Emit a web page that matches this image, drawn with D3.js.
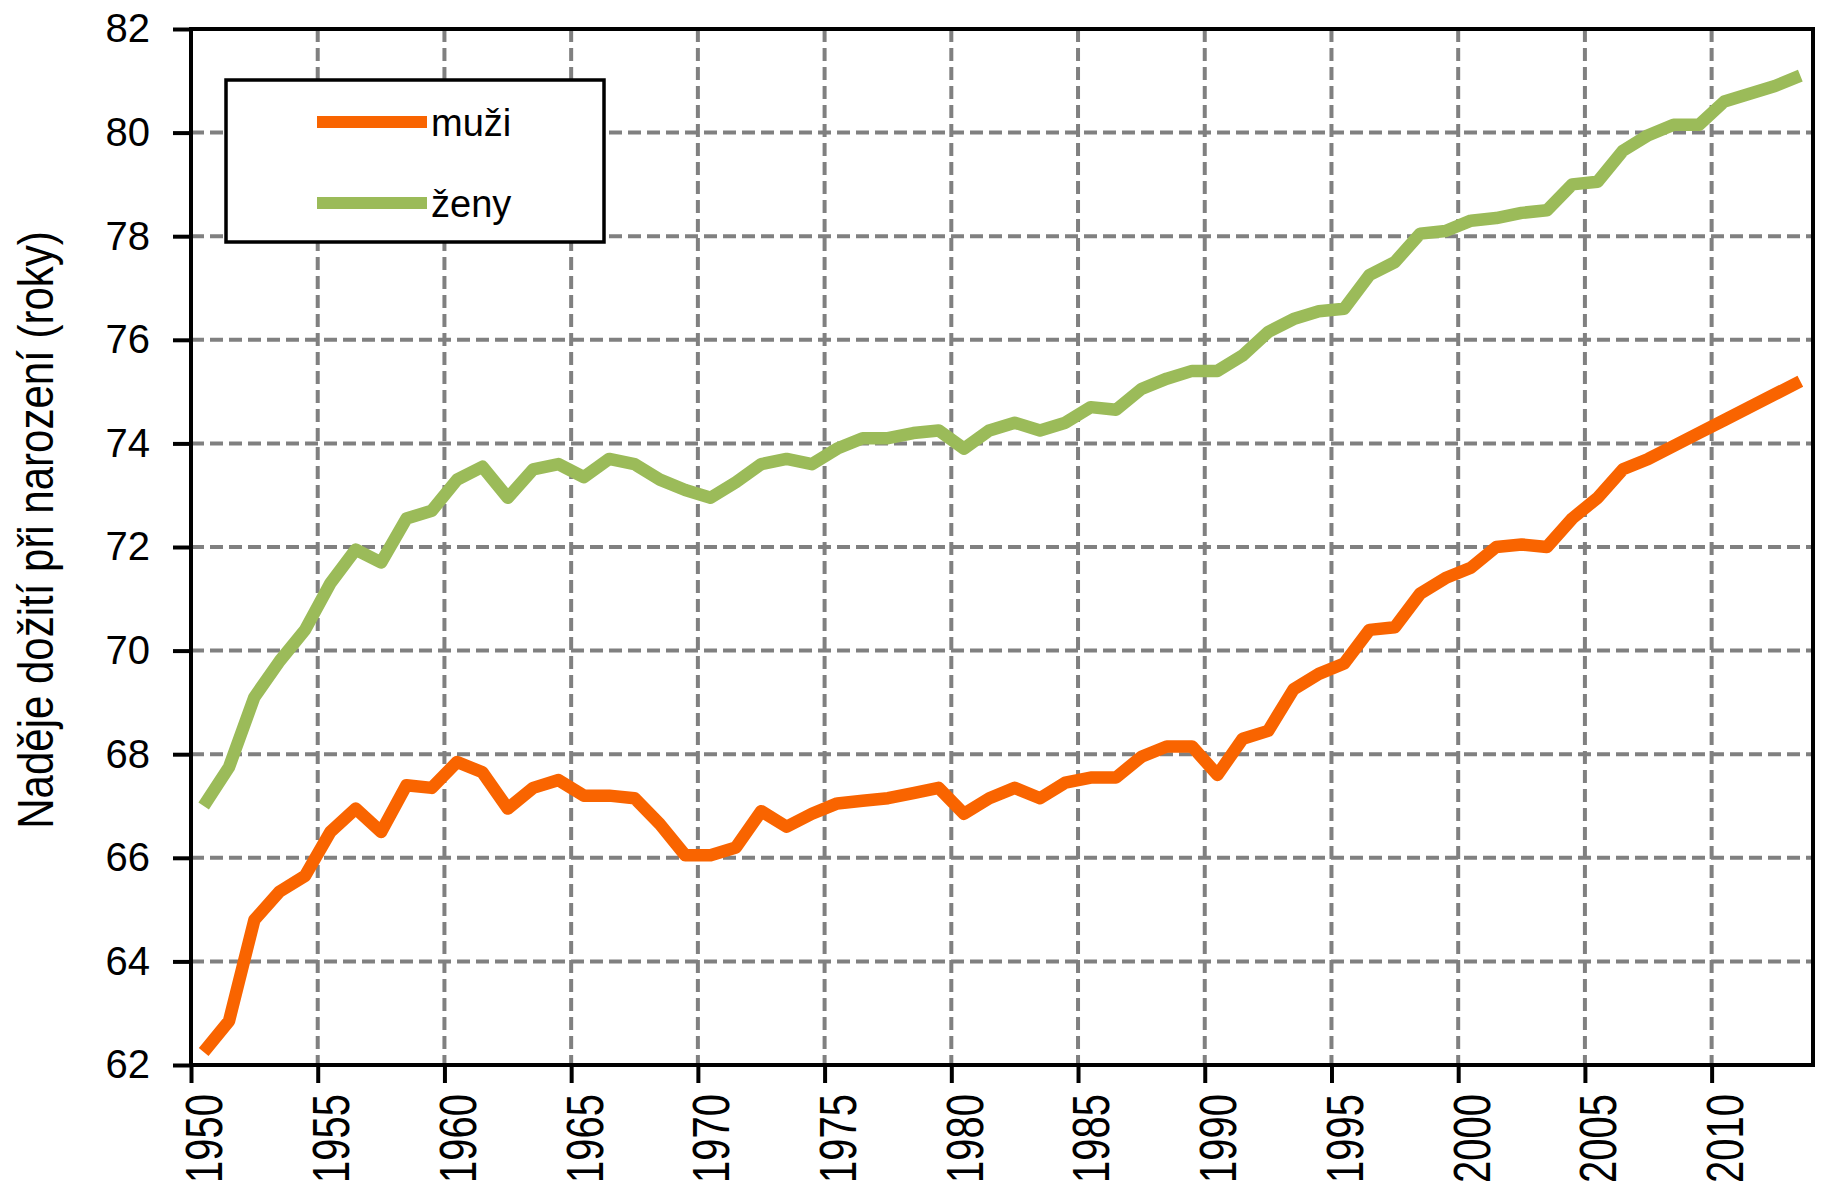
<!DOCTYPE html>
<html>
<head>
<meta charset="utf-8">
<script src="https://cdn.jsdelivr.net/npm/d3@7"></script>
<style>
  html, body { margin: 0; padding: 0; background: #ffffff; }
  svg { display: block; }
  text { font-family: Arial, "Liberation Sans", sans-serif; fill: #000; }
</style>
</head>
<body>
<svg id="chart" width="1824" height="1190"></svg>
<script>
const years = d3.range(1950, 2014);
const muzi = [62.25, 62.85, 64.8, 65.35, 65.65, 66.5, 66.95, 66.5, 67.4, 67.35,
  67.85, 67.65, 66.95, 67.35, 67.5, 67.2, 67.2, 67.15, 66.65, 66.05,
  66.05, 66.2, 66.9, 66.6, 66.85, 67.05, 67.1, 67.15, 67.25, 67.35,
  66.85, 67.15, 67.35, 67.15, 67.45, 67.55, 67.55, 67.95, 68.15, 68.15,
  67.6, 68.3, 68.45, 69.25, 69.55, 69.75, 70.4, 70.45, 71.1, 71.4,
  71.6, 72.0, 72.05, 72.0, 72.55, 72.95, 73.5, 73.7, 73.95, 74.2,
  74.45, 74.7, 74.95, 75.2];
const zeny = [67.0, 67.75, 69.1, 69.8, 70.4, 71.3, 71.95, 71.7, 72.55, 72.7,
  73.3, 73.55, 72.95, 73.5, 73.6, 73.35, 73.7, 73.6, 73.3, 73.1,
  72.95, 73.25, 73.6, 73.7, 73.6, 73.9, 74.1, 74.1, 74.2, 74.25,
  73.9, 74.25, 74.4, 74.25, 74.4, 74.7, 74.65, 75.05, 75.25, 75.4,
  75.4, 75.7, 76.15, 76.4, 76.55, 76.6, 77.25, 77.5, 78.05, 78.1,
  78.3, 78.35, 78.45, 78.5, 79.0, 79.05, 79.65, 79.95, 80.15, 80.15,
  80.6, 80.75, 80.9, 81.1];
const yTicks = [62, 64, 66, 68, 70, 72, 74, 76, 78, 80, 82];
const xTickYears = [1950, 1955, 1960, 1965, 1970, 1975, 1980, 1985, 1990, 1995, 2000, 2005, 2010];
const seriesNames = ["muži", "ženy"];
const seriesColors = ["#f96400", "#9bbb59"];
const yTitle = "Naděje dožití při narození (roky)";

const L = 191, R = 1813, T = 29, B = 1065;
const svg = d3.select("#chart");

const xb = d3.scaleBand().domain(years).range([L, R]).padding(0);
const xl = d3.scaleLinear().domain([1950, 2014]).range([L, R]);
const y = d3.scaleLinear().domain([62, 82]).range([B, T]);

// gridlines
const grid = svg.append("g");
grid.selectAll("line.h").data(yTicks.filter(v => v > 62 && v < 82)).join("line")
  .attr("x1", L).attr("x2", R)
  .attr("y1", d => y(d)).attr("y2", d => y(d))
  .attr("stroke", "#808080").attr("stroke-width", 4).attr("stroke-dasharray", "13,6");
grid.selectAll("line.v").data(xTickYears.filter(v => v > 1950)).join("line")
  .attr("x1", d => xl(d)).attr("x2", d => xl(d))
  .attr("y1", T).attr("y2", B)
  .attr("stroke", "#808080").attr("stroke-width", 4).attr("stroke-dasharray", "13,6");

// series lines
const line = d3.line().x((d, i) => xb(years[i]) + xb.bandwidth() / 2).y(d => y(d));
[muzi, zeny].forEach((s, i) => {
  svg.append("path").datum(s)
    .attr("d", line)
    .attr("fill", "none")
    .attr("stroke", seriesColors[i])
    .attr("stroke-width", 12.5)
    .attr("stroke-linejoin", "round");
});

// plot border
svg.append("rect").attr("x", L).attr("y", T).attr("width", R - L).attr("height", B - T)
  .attr("fill", "none").attr("stroke", "#000").attr("stroke-width", 4);

// y axis
const yAxis = svg.append("g").attr("transform", `translate(${L},0)`)
  .call(d3.axisLeft(y).tickValues(yTicks).tickSize(18).tickPadding(23).tickFormat(d3.format("d")));
yAxis.select(".domain").remove();
yAxis.selectAll("line").attr("stroke", "#000").attr("stroke-width", 4);
yAxis.selectAll("text").attr("font-size", 40).attr("fill", "#000")
  .style("font-family", "Arial, 'Liberation Sans', sans-serif");

// x axis ticks (category boundaries)
const xTickAxis = svg.append("g").attr("transform", `translate(0,${B})`)
  .call(d3.axisBottom(xl).tickValues(xTickYears).tickSize(18).tickFormat(""));
xTickAxis.select(".domain").remove();
xTickAxis.selectAll("line").attr("stroke", "#000").attr("stroke-width", 4);

// x axis labels (category centers)
const xLabAxis = svg.append("g").attr("transform", `translate(0,${B})`)
  .call(d3.axisBottom(xb).tickValues(xTickYears).tickSize(0));
xLabAxis.select(".domain").remove();
xLabAxis.selectAll("text")
  .attr("font-size", 40).attr("fill", "#000")
  .style("font-family", "Arial, 'Liberation Sans', sans-serif")
  .attr("text-anchor", "end")
  .attr("x", -29).attr("y", 0).attr("dy", "0.36em")
  .attr("transform", "rotate(-90) scale(1,1.3)");

// y title
svg.append("text")
  .attr("transform", "translate(35,530) rotate(-90) scale(1,1.2)")
  .attr("text-anchor", "middle").attr("dy", "0.35em")
  .attr("font-size", 42)
  .text(yTitle);

// legend
const lg = svg.append("g");
lg.append("rect").attr("x", 226).attr("y", 80).attr("width", 378).attr("height", 162)
  .attr("fill", "#fff").attr("stroke", "#000").attr("stroke-width", 3.5);
const legY = [122, 203];
seriesNames.forEach((n, i) => {
  lg.append("line").attr("x1", 317).attr("x2", 427).attr("y1", legY[i]).attr("y2", legY[i])
    .attr("stroke", seriesColors[i]).attr("stroke-width", 12);
  lg.append("text").attr("x", 431).attr("y", legY[i] + 14)
    .attr("font-size", 38).text(n);
});
</script>
</body>
</html>
